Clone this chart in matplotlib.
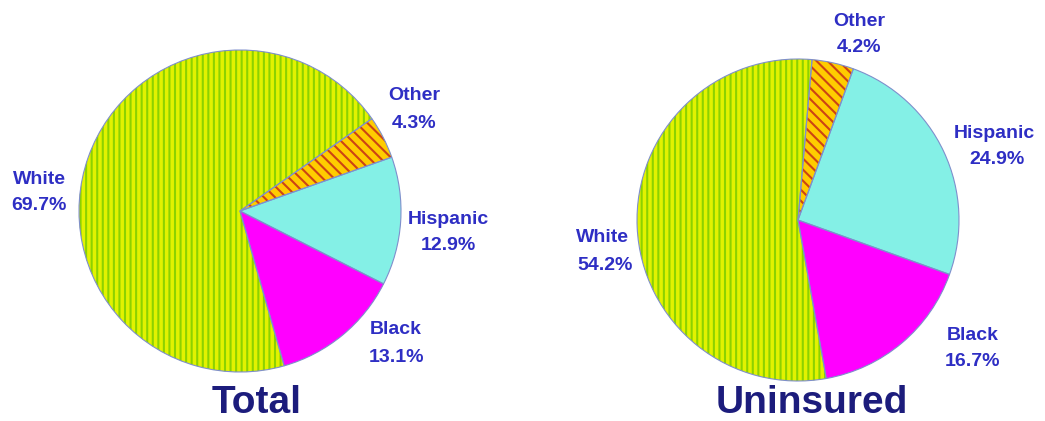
import matplotlib
matplotlib.use('Agg')
import matplotlib.pyplot as plt


# data
categories = ['Other', 'Hispanic', 'Black', 'White']
total_share = [4.3, 12.9, 13.1, 69.7]
uninsured_share = [4.2, 24.9, 16.7, 54.2]
titles = ['Total', 'Uninsured']

# styles
face_colors = ['#ffcc00', '#84f0e6', '#ff00ff', '#e2f200']
hatches = ['\\\\\\', None, None, '|||']
hatch_colors = ['#cc4414', None, None, '#8cd200']
label_color = '#2e2ec4'
title_color = '#1c1c7c'
W, H = 1045, 421

# layout in picture pixels (y down)
pies = [
    dict(center=(240, 211), radius=161, start=35,
         labels=[((414, 96), (414, 124)),
                 ((448, 220), (448, 246)),
                 ((396, 330), (397, 357)),
                 ((39, 179), (39, 205))],
         title=(257, 413)),
    dict(center=(798, 220), radius=161, start=85,
         labels=[((859, 21), (859, 47)),
                 ((994, 133), (997, 160)),
                 ((973, 336), (973, 362)),
                 ((602, 238), (605, 265))],
         title=(812, 413)),
]

plt.rcParams['font.family'] = ['Liberation Sans', 'DejaVu Sans']
plt.rcParams['hatch.linewidth'] = 1.5

fig = plt.figure(figsize=(W / 100, H / 100), dpi=100)
ax = fig.add_axes([0, 0, 1, 1])

for values, title, p in zip([total_share, uninsured_share], titles, pies):
    cx, cy = p['center']
    center = (cx, H - cy)
    wedges, _ = ax.pie(values, colors=face_colors, startangle=p['start'],
                       counterclock=False, center=center, radius=p['radius'],
                       wedgeprops=dict(linewidth=0))
    for w, h, hc in zip(wedges, hatches, hatch_colors):
        if h:
            w.set_hatch(h)
            w.set_edgecolor(hc)
    # outline on top
    ax.pie(values, startangle=p['start'], counterclock=False, center=center,
           radius=p['radius'],
           wedgeprops=dict(fill=False, edgecolor='#7f8fcc', linewidth=0.8))

    for name, v, (pos1, pos2) in zip(categories, values, p['labels']):
        ax.text(pos1[0], H - pos1[1], name, ha='center', va='center',
                fontsize=14, fontweight='bold', color=label_color)
        ax.text(pos2[0], H - pos2[1], '{:.1f}%'.format(v), ha='center',
                va='center', fontsize=14, fontweight='bold', color=label_color)

    tx, ty = p['title']
    ax.text(tx, H - ty, title, ha='center', va='baseline', fontsize=28,
            fontweight='bold', color=title_color)

ax.set_xlim(0, W)
ax.set_ylim(0, H)
ax.set_aspect('auto')
ax.axis('off')

fig.savefig('out.png', dpi=100)
